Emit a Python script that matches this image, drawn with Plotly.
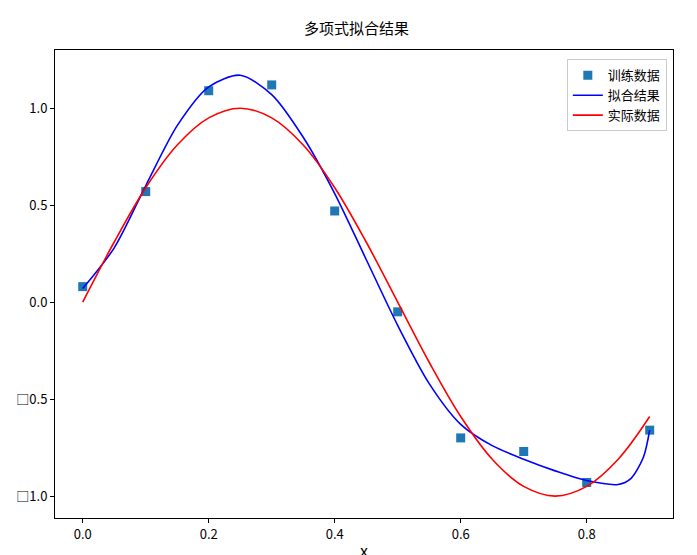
import plotly.graph_objects as go

# training samples
train_x = [0.0, 0.1, 0.2, 0.3, 0.4, 0.5, 0.6, 0.7, 0.8, 0.9]
train_y = [0.08, 0.57, 1.09, 1.12, 0.47, -0.05, -0.70, -0.77, -0.93, -0.66]

# fitted curve
fit_x = [0.0, 0.05, 0.1, 0.15, 0.2, 0.25, 0.3, 0.35, 0.4, 0.45, 0.5, 0.55,
         0.6, 0.65, 0.7, 0.75, 0.8, 0.85, 0.87, 0.89, 0.9]
fit_y = [0.07, 0.28, 0.60, 0.91, 1.11, 1.17, 1.07, 0.85, 0.56, 0.22, -0.12, -0.42,
         -0.63, -0.74, -0.81, -0.87, -0.92, -0.94, -0.91, -0.80, -0.66]

# actual curve
real_x = [0.0, 0.05, 0.1, 0.15, 0.2, 0.25, 0.3, 0.35, 0.4, 0.45, 0.5, 0.55,
          0.6, 0.65, 0.7, 0.75, 0.8, 0.85, 0.9]
real_y = [0.0, 0.31, 0.59, 0.81, 0.95, 1.0, 0.95, 0.81, 0.59, 0.31, 0.0, -0.31,
          -0.59, -0.81, -0.95, -1.0, -0.95, -0.81, -0.59]

y_ticks = [-1.0, -0.5, 0.0, 0.5, 1.0]
y_labels = ["□1.0", "□0.5", "0.0", "0.5", "1.0"]

FONT = "SimHei, Noto Sans CJK SC, sans-serif"

fig = go.Figure()
fig.add_trace(go.Scatter(x=train_x, y=train_y, mode="markers", name="训练数据",
                         marker=dict(symbol="square", size=9, color="#1f77b4")))
fig.add_trace(go.Scatter(x=fit_x, y=fit_y, mode="lines", name="拟合结果",
                         line=dict(color="blue", width=1.6, shape="spline", smoothing=0.8)))
fig.add_trace(go.Scatter(x=real_x, y=real_y, mode="lines", name="实际数据",
                         line=dict(color="red", width=1.6, shape="spline")))

axis_style = dict(showline=True, linecolor="black", linewidth=1, mirror=True,
                  ticks="outside", ticklen=4, tickcolor="black",
                  showgrid=False, zeroline=False, automargin=False,
                  tickfont=dict(size=13, color="black"))

fig.update_layout(
    width=697, height=555,
    margin=dict(l=47, r=32, t=42, b=45),
    paper_bgcolor="white", plot_bgcolor="white",
    font=dict(family=FONT, size=13, color="black"),
    title=dict(text="多项式拟合结果", x=0.5, xanchor="center", y=0.962, yanchor="middle",
               font=dict(size=15)),
    xaxis=dict(range=[-0.044, 0.937], tickvals=[0, 0.2, 0.4, 0.6, 0.8],
               ticktext=["0.0", "0.2", "0.4", "0.6", "0.8"],
               title=dict(text="x", standoff=4), **axis_style),
    yaxis=dict(range=[-1.113, 1.30], tickvals=y_ticks, ticktext=y_labels, **axis_style),
    legend=dict(x=0.99, y=0.98, xanchor="right", yanchor="top",
                bgcolor="white", bordercolor="#cccccc", borderwidth=1,
                font=dict(size=13)),
)

fig.write_html("out.html")
